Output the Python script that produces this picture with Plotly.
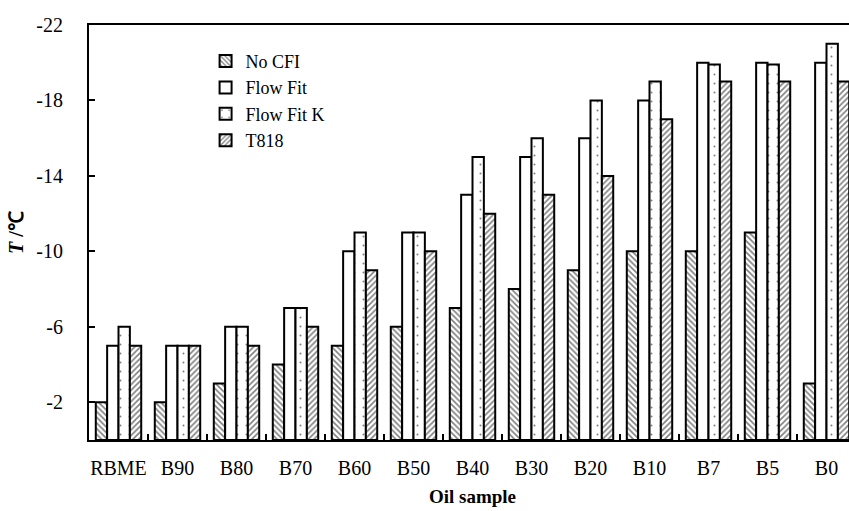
import plotly.graph_objects as go

categories = ["RBME", "B90", "B80", "B70", "B60", "B50", "B40", "B30", "B20", "B10", "B7", "B5", "B0"]
no_cfi = [-2, -2, -3, -4, -5, -6, -7, -8, -9, -10, -10, -11, -3]
flow_fit = [-5, -5, -6, -7, -10, -11, -13, -15, -16, -18, -20, -20, -20]
flow_fit_k = [-6, -5, -6, -7, -11, -11, -15, -16, -18, -19, -19.9, -19.9, -21]
t818 = [-5, -5, -5, -6, -9, -10, -12, -13, -14, -17, -19, -19, -19]
y_ticks = [-2, -6, -10, -14, -18, -22]
y_tick_text = ["-2", "-6", "-10", "-14", "-18", "-22"]

FONT = "Liberation Serif"

series = [
    ("No CFI", no_cfi, dict(shape="\\", size=4, solidity=0.4)),
    ("Flow Fit", flow_fit, dict(shape="")),
    ("Flow Fit K", flow_fit_k, dict(shape=".", size=9, solidity=0.04)),
    ("T818", t818, dict(shape="/", size=4, solidity=0.4)),
]

fig = go.Figure()
for name, vals, pat in series:
    fig.add_trace(go.Bar(
        name=name, x=categories, y=vals,
        marker=dict(color="white", line=dict(color="black", width=2),
                    pattern=dict(fgcolor="black", bgcolor="white", **pat)),
    ))

fig.update_layout(
    width=856, height=511,
    margin=dict(l=89, r=0, t=25, b=71),
    paper_bgcolor="white", plot_bgcolor="white",
    barmode="group", bargap=0.23, bargroupgap=0,
    font=dict(family=FONT, size=19, color="black"),
    legend=dict(x=0.152, y=0.957, xanchor="left", yanchor="top",
                bgcolor="rgba(0,0,0,0)", font=dict(size=18, family=FONT),
                itemwidth=30, tracegroupgap=0),
    xaxis=dict(showline=True, linecolor="black", linewidth=2, mirror=True,
               ticks="inside", tickson="boundaries", ticklen=6, tickcolor="black",
               tickwidth=2, showgrid=False, ticklabelstandoff=9, tickangle=0,
               automargin=False,
               tickfont=dict(size=20, family=FONT),
               title=dict(text="<b>Oil sample</b>", font=dict(size=19, family=FONT), standoff=12)),
    yaxis=dict(range=[0, -22], tickvals=y_ticks, ticktext=y_tick_text, showline=True,
               linecolor="black", linewidth=2, ticks="inside", ticklen=6, tickcolor="black",
               tickwidth=2, showgrid=False, zeroline=False, ticklabelstandoff=20,
               automargin=False,
               tickfont=dict(size=20, family=FONT),
               title=dict(text="<b><i>T</i> /℃</b>", font=dict(size=20, family=FONT), standoff=7)),
)

fig.write_html("out.html", config={"displayModeBar": False},
               post_script="document.body.style.margin='0';document.body.style.overflow='hidden';")
